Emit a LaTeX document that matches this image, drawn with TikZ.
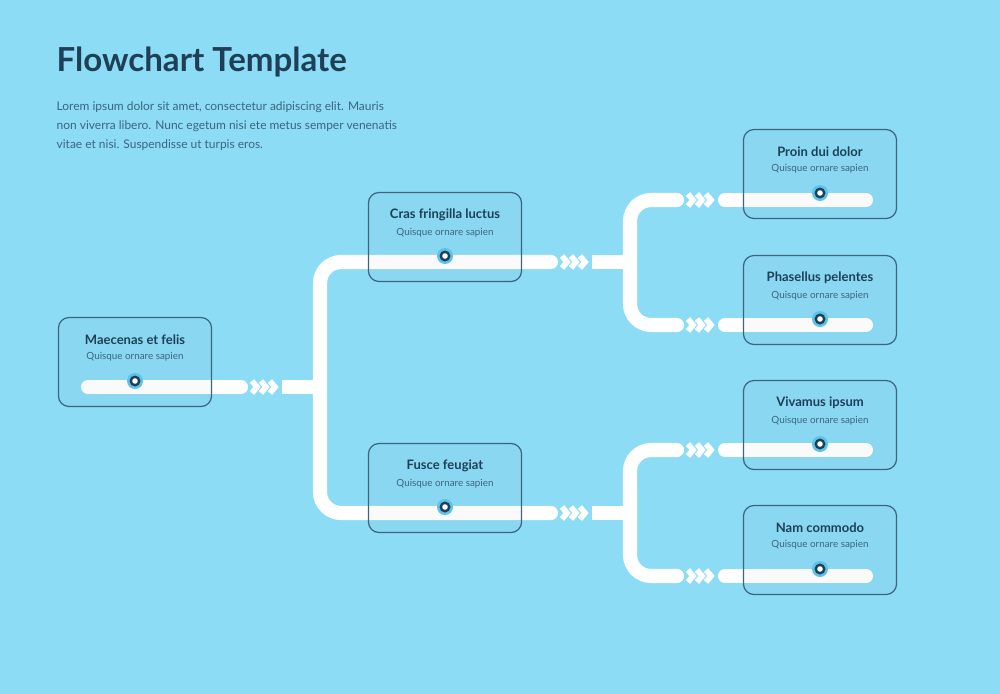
\documentclass[tikz,border=0pt]{standalone}
\usepackage{fontspec}
\setmainfont{Lato}
\usetikzlibrary{positioning}
\definecolor{bg}{HTML}{8CDCF5}
\definecolor{ink}{HTML}{1E3F56}
\definecolor{frame}{HTML}{3D6580}
\definecolor{ring}{HTML}{5CC3EA}
\begin{document}
\begin{tikzpicture}[x=0.01cm,y=-0.01cm]
\tikzset{track/.style={white,line width=4pt,line cap=round,rounded corners=6pt},
chev/.style={white,line width=1.6pt},
card/.style={draw=frame,line width=0.35pt,rounded corners=3pt,fill=black,fill opacity=0.02,text opacity=1,minimum width=1.53cm,minimum height=0.89cm},
head/.style={font=\fontsize{3.7}{4}\selectfont\bfseries,text=ink,inner sep=0.5pt},
sub/.style={font=\fontsize{2.8}{3}\selectfont,text=frame,inner sep=0.5pt}}
\newcommand{\chevs}[2]{\foreach \k in {0,9,18} {\draw[chev] (#1+\k-2,#2-6) -- (#1+\k+3,#2) -- (#1+\k-2,#2+6);}}
\newcommand{\pin}[2]{\fill[ring] (#1,#2) circle (8); \fill[ink] (#1,#2) circle (5.5); \fill[white] (#1,#2) circle (2.8);}
\fill[bg] (0,0) rectangle (1000,694);
\node[anchor=west,font=\fontsize{9.4}{10}\selectfont\bfseries,text=ink,inner sep=0] (title) at (56,62) {Flowchart Template};
\node[anchor=north west,align=left,font=\fontsize{3.4}{5.4}\selectfont,text=frame,inner sep=0] (intro) at (56,101) {Lorem ipsum dolor sit amet, consectetur adipiscing elit. Mauris\\non viverra libero. Nunc egetum nisi ete metus semper venenatis\\vitae et nisi. Suspendisse ut turpis eros.};
% tracks
\draw[track] (88,387) -- (241,387);
\draw[track,line cap=butt] (282,387) -- (320,387);
\draw[track] (320,387) -- (320,262) -- (551,262);
\draw[track] (320,387) -- (320,513) -- (551,513);
\draw[track,line cap=butt] (592,262) -- (630,262);
\draw[track,line cap=butt] (592,513) -- (630,513);
\foreach \y/\a/\b in {262/200/325,513/450/576} {
\draw[track] (630,\y) -- (630,\a) -- (677,\a);
\draw[track] (630,\y) -- (630,\b) -- (677,\b);
\draw[track] (725,\a) -- (866,\a);
\draw[track] (725,\b) -- (866,\b);
\chevs{690}{\a}
\chevs{690}{\b}
}
\chevs{254}{387}
\chevs{564}{262}
\chevs{564}{513}
% cards
\foreach \n/\x/\y/\t in {maecenas/135/362/Maecenas et felis,cras/445/237/Cras fringilla luctus,fusce/445/488/Fusce feugiat,proin/820/174/Proin dui dolor,phasellus/820/300/Phasellus pelentes,vivamus/820/425/Vivamus ipsum,nam/820/550/Nam commodo} {
\node[card] (\n) at (\x,\y) {};
\node[head] (\n-h) at (\x,\y-22) {\t};
\node[sub,below=0.6pt of \n-h] (\n-s) {Quisque ornare sapien};
\pin{\x}{\y+19}
}
\end{tikzpicture}
\end{document}
